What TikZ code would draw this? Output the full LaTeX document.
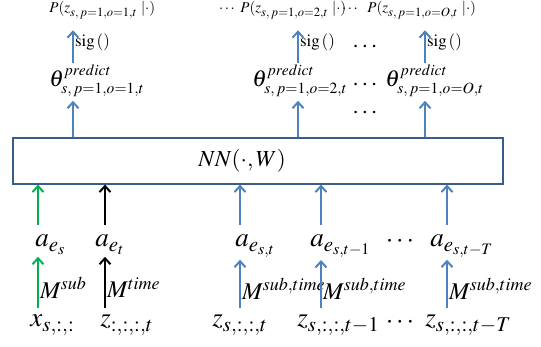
\documentclass[tikz,border=0pt]{standalone}
\usepackage{mathptmx}
\usetikzlibrary{arrows.meta,positioning}

\DeclareMathSizes{13.5}{13.5}{10.5}{8}
\DeclareMathSizes{11.5}{11.5}{7.8}{6.5}
\DeclareMathSizes{7.5}{7.5}{6.3}{5}

\definecolor{arrowblue}{RGB}{79,129,189}
\definecolor{arrowgreen}{RGB}{0,176,80}
\definecolor{boxblue}{RGB}{56,93,138}

\begin{document}
\begin{tikzpicture}[
    x=0.5pt, y=-0.5pt,
    every node/.style = {inner sep=1pt, text=black},
    big/.style = {font=\fontsize{13.5}{15}\selectfont},
    theta/.style = {font=\fontsize{11.5}{13}\selectfont},
    mlab/.style = {font=\fontsize{12}{14}\selectfont},
    small/.style = {font=\fontsize{7.5}{9}\selectfont},
    box/.style = {
        rectangle,
        draw=boxblue,
        line width=0.6pt,
        minimum width=245pt,
        minimum height=23pt
    },
    arrow/.style = {
        -{Straight Barb[length=3pt,width=5.5pt]},
        line width=1pt,
        arrowblue
    }
]
\useasboundingbox (0,0) rectangle (541,347);

% network
\node[box] (nn) at (258,161) {};
\node[font=\fontsize{11.5}{14}\selectfont] (nnlbl) at (242,161) {$NN(\cdot,W)$};

% columns
\coordinate (c1) at (73,0);
\coordinate (c2) at (298,0);
\coordinate (c3) at (425,0);
\coordinate (cs) at (38,0);
\coordinate (ct) at (105,0);
\coordinate (d1) at (240,0);
\coordinate (d2) at (321,0);
\coordinate (d3) at (447,0);

% outputs
\node[small, anchor=base west] (p1) at (47,13) {$P(z_{s,\,p=1,o=1,t}\;|\cdot)$};
\node[small, anchor=base] (pdots1) at (227,13) {$\cdots$};
\node[small, anchor=base west] (p2) at (238,13) {$P(z_{s,\,p=1,o=2,t}\;|\cdot)$};
\node[small, anchor=base] (pdots2) at (350,13) {$\cdots$};
\node[small, anchor=base west] (p3) at (365,13) {$P(z_{s,\,p=1,o=O,t}\;|\cdot)$};

\node[theta, anchor=base west] (th1) at (47,87) {$\theta^{predict}_{s,\,p=1,o=1,t}$};
\node[theta, anchor=base west] (th2) at (250,87) {$\theta^{predict}_{s,\,p=1,o=2,t}$};
\node[theta, anchor=base west] (th3) at (383,87) {$\theta^{predict}_{s,\,p=1,o=O,t}$};

\node[mlab] (vdots1) at (365,47) {$\cdots$};
\node[mlab] (vdots2) at (365,85) {$\cdots$};
\node[mlab] (vdots3) at (365,113) {$\cdots$};

\foreach \i in {1,2,3} {
    \draw[arrow, shorten >=4.5pt] (th\i.north -| c\i) -- (p\i.south -| c\i)
        node[font=\fontsize{8.5}{10}\selectfont, midway, anchor=west, inner sep=0.5pt] (sig\i) {$\mathrm{sig}\,()$};
    \draw[arrow, shorten >=1pt] (nn.north -| c\i) -- (th\i.south -| c\i);
}

% embeddings
\node[big, anchor=base west] (as) at (33,247) {$a_{e_s}$};
\node[big, anchor=base west] (at) at (93,247) {$a_{e_t}$};
\node[big, anchor=base west] (a1) at (233,247) {$a_{e_{s,t}}$};
\node[big, anchor=base west] (a2) at (308,247) {$a_{e_{s,t-1}}$};
\node[big] (adots) at (400,242) {$\cdots$};
\node[big, anchor=base west] (a3) at (428,247) {$a_{e_{s,t-T}}$};

% inputs
\node[big, anchor=base west] (xs) at (28,327) {$x_{s,{:},{:}}$};
\node[big, anchor=base west] (zt) at (98,327) {$z_{{:},{:},{:},t}$};
\node[big, anchor=base west] (z1) at (210,327) {$z_{s,{:},{:},t}$};
\node[big, anchor=base west] (z2) at (295,327) {$z_{s,{:},{:},t-1}$};
\node[big] (zdots) at (400,323) {$\cdots$};
\node[big, anchor=base west] (z3) at (423,327) {$z_{s,{:},{:},t-T}$};

\draw[arrow, arrowgreen, shorten <=4pt] (as.north -| cs) -- (nn.south -| cs);
\draw[arrow, black, shorten <=4pt] (at.north -| ct) -- (nn.south -| ct);
\foreach \i in {1,2,3}
    \draw[arrow, shorten <=4pt] (a\i.north -| d\i) -- (nn.south -| d\i);

\draw[arrow, arrowgreen, shorten <=2.5pt] (xs.north -| cs) -- (as.south -| cs)
    node[mlab, pos=0.45, anchor=west, inner sep=0.5pt] (msub) {$M^{sub}$};
\draw[arrow, black, shorten <=2.5pt] (zt.north -| ct) -- (at.south -| ct)
    node[mlab, pos=0.45, anchor=west, inner sep=0.5pt] (mtime) {$M^{time}$};
\foreach \i in {1,2,3}
    \draw[arrow, shorten <=2.5pt] (z\i.north -| d\i) -- (a\i.south -| d\i)
        node[mlab, pos=0.45, anchor=west, inner sep=0.5pt] (m\i) {$M^{sub,time}$};

\end{tikzpicture}
\end{document}
